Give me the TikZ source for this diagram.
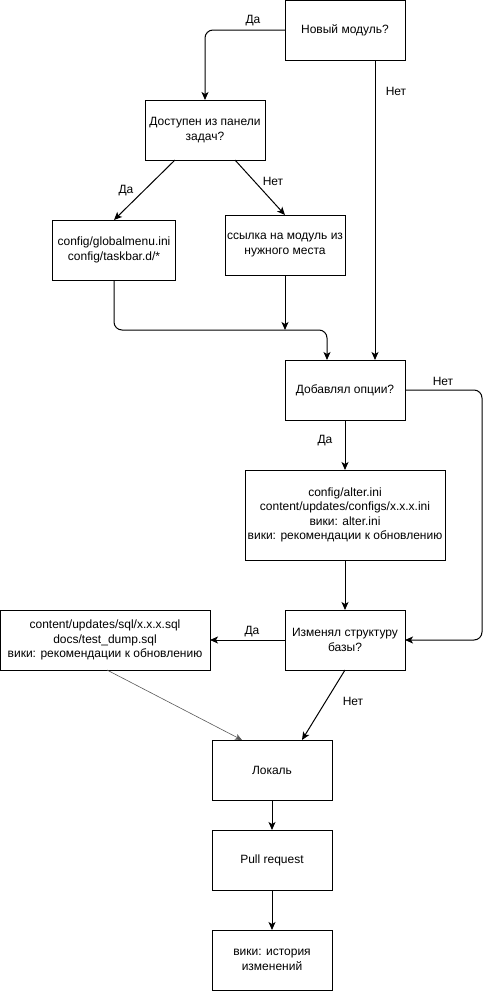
\documentclass[tikz,border=0pt]{standalone}
\usepackage{fontspec}
\setmainfont{Liberation Sans}
\usepackage{tikz}
\usetikzlibrary{arrows.meta,positioning}

\begin{document}
\begin{tikzpicture}[x=1pt, y=-1pt,
        box/.style={draw, line width=1pt, inner sep=0pt, outer sep=0pt, align=center,
            minimum width=120pt, minimum height=60pt, font=\fontsize{12}{14.4}\selectfont},
        lbl/.style={font=\fontsize{12}{14.4}\selectfont},
        arr/.style={-{Stealth[length=8pt, width=7pt, inset=2pt]}, line width=1pt},
        thinarr/.style={-{Stealth[length=7pt, width=6pt, inset=2pt]}, line width=0.6pt, black!65}]
        \useasboundingbox (0,0) rectangle (491,991);

        \node (new) [box] at (345,30) {Новый модуль?};
        \node (avail) [box] at (205,130) {Доступен из панели\\задач?};
        \node (menu) [box, minimum width=123pt] at (114,250) {config/globalmenu.ini\\config/taskbar.d/*};
        \node (link) [box] at (285,245) {ссылка на модуль из\\нужного места};
        \node (opts) [box] at (345,390) {Добавлял опции?};
        \node (alter) [box, minimum width=200pt, minimum height=90pt] at (345,515) {config/alter.ini\\content/updates/configs/x.x.x.ini\\вики: alter.ini\\вики: рекомендации к обновлению};
        \node (struct) [box] at (345,640) {Изменял структуру\\базы?};
        \node (sql) [box, minimum width=210pt] at (105,640) {content/updates/sql/x.x.x.sql\\docs/test\_dump.sql\\вики: рекомендации к обновлению};
        \node (local) [box] at (272,770) {Локаль};
        \node (pull) [box, below=30pt of local] {Pull request};
        \node (hist) [box, below=40pt of pull] {вики: история\\изменений};

        \coordinate (join) at (285,330);

        \draw[arr, rounded corners=8pt] (new.west) -| (avail.north);
        \draw[arr] ([xshift=30pt]new.south) -- ([xshift=30pt]opts.north);
        \draw[arr] ([xshift=-30pt]avail.south) -- (menu.north);
        \draw[arr] ([xshift=30pt]avail.south) -- (link.north);
        \draw[arr, rounded corners=8pt] (menu.south) |- (join) -| ([xshift=-18pt]opts.north);
        \draw[arr] (link.south) -- (join);
        \draw[arr] (opts.south) -- (alter.north);
        \draw[arr, rounded corners=8pt] (opts.east) -- ++(77,0) |- (struct.east);
        \draw[arr] (alter.south) -- (struct.north);
        \draw[arr] (struct.west) -- (sql.east);
        \draw[thinarr] ([xshift=2pt]sql.south) -- ([xshift=-30pt]local.north);
        \draw[arr] (struct.south) -- ([xshift=30pt]local.north);
        \draw[arr] (local.south) -- (pull.north);
        \draw[arr] (pull.south) -- (hist.north);

        \node (yes1) [lbl] at (253,21) {Да};
        \node (no1) [lbl] at (396,91) {Нет};
        \node (yes2) [lbl] at (126,191) {Да};
        \node (no2) [lbl] at (273,181) {Нет};
        \node (no3) [lbl] at (443,381) {Нет};
        \node (yes3) [lbl] at (325,441) {Да};
        \node (yes4) [lbl] at (252,632) {Да};
        \node (no4) [lbl] at (353,701) {Нет};
    \end{tikzpicture}
\end{document}
